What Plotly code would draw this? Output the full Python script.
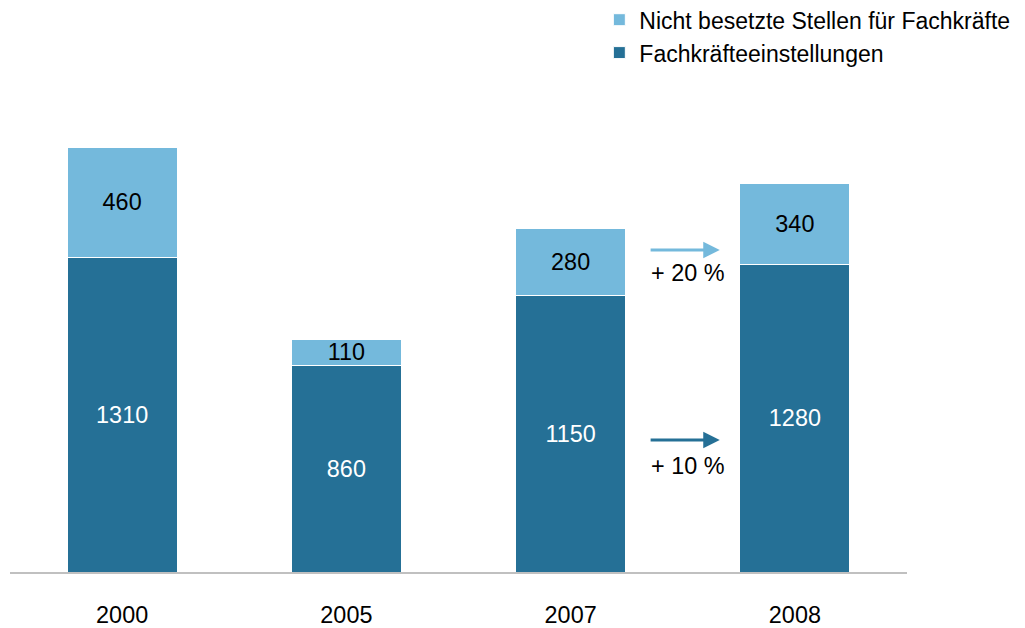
import plotly.graph_objects as go

years = ["2000", "2005", "2007", "2008"]
hires = [1310, 860, 1150, 1280]
vacancies = [460, 110, 280, 340]
hires_name = "Fachkräfteeinstellungen"
vac_name = "Nicht besetzte Stellen für Fachkräfte"
growth_labels = ["+ 10 %", "+ 20 %"]

dark = "#257096"
light = "#74b9dc"
FONT = "Liberation Sans, Arial, sans-serif"
FS = 23.4
LFS = 23

fig = go.Figure()
fig.add_trace(go.Bar(
    x=years, y=hires, name=hires_name, legendgroup="a",
    marker=dict(color=dark, line=dict(color="white", width=1)),
    text=[str(v) for v in hires], textposition="inside", insidetextanchor="middle",
    textangle=0, textfont=dict(color="white", size=FS, family=FONT),
))
fig.add_trace(go.Bar(
    x=years, y=vacancies, name=vac_name, legendgroup="b",
    marker=dict(color=light, line=dict(color="white", width=1)),
    text=[str(v) for v in vacancies], textposition="inside", insidetextanchor="middle",
    textangle=0, textfont=dict(color="black", size=FS, family=FONT),
))

total_max = max(h + v for h, v in zip(hires, vacancies))

# growth arrows between 2007 and 2008
arrow_specs = [
    (dark, 550, 441, growth_labels[0]),
    (light, 1341, 1245, growth_labels[1]),
]
for color, ya, yt, label in arrow_specs:
    fig.add_annotation(
        x=2.665, y=ya, ax=2.35, ay=ya, xref="x", yref="y", axref="x", ayref="y",
        showarrow=True, arrowhead=2, arrowsize=1.1, arrowwidth=3, arrowcolor=color, text="",
    )
    fig.add_annotation(
        x=2.52, y=yt, xref="x", yref="y", text=label, showarrow=False,
        font=dict(size=FS, color="black", family=FONT),
    )

fig.update_layout(
    barmode="stack",
    bargap=0.51,
    width=1017, height=620,
    margin=dict(l=2, r=118, t=139, b=56, autoexpand=False),
    paper_bgcolor="white", plot_bgcolor="white",
    font=dict(family=FONT, size=FS, color="black"),
    uniformtext=dict(minsize=FS, mode="show"),
    showlegend=True,
    legend=dict(
        x=0.657, y=1.35, xanchor="left", yanchor="top",
        traceorder="reversed", tracegroupgap=22,
        font=dict(size=LFS, family=FONT, color="black"),
        bgcolor="rgba(0,0,0,0)",
    ),
    xaxis=dict(
        type="category", showline=True, linecolor="#c0c0c0", linewidth=2,
        showgrid=False, ticks="", ticklabelstandoff=21, automargin=False,
        tickfont=dict(size=FS, family=FONT, color="black"),
    ),
    yaxis=dict(
        range=[0, total_max], visible=False, showgrid=False, zeroline=False,
        automargin=False,
    ),
)

fig.write_html("out.html")
